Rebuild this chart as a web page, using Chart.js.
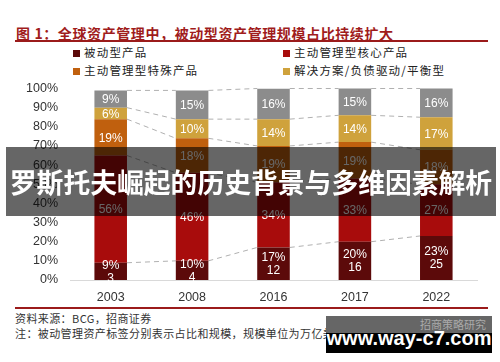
<!DOCTYPE html>
<html>
<head>
<meta charset="utf-8">
<script src="https://cdn.jsdelivr.net/npm/chart.js@4.4.1/dist/chart.umd.min.js"></script>
<style>
  body { margin: 0; width: 500px; height: 362px; position: relative; overflow: hidden; background: #fff;
         font-family: "Noto Sans CJK SC", sans-serif; }
  .title { position: absolute; left: 16px; top: 23px; font-size: 14px; font-weight: bold; color: #a01c1c; letter-spacing: 0.6px; }
  .rule { position: absolute; left: 15px; width: 473px; height: 2px; background: #9b1b1b; }
  .leg { position: absolute; font-size: 11.5px; color: #222; letter-spacing: 1.2px; line-height: 14px; }
  .leg i { display: inline-block; width: 7px; height: 7px; margin-right: 4px; vertical-align: 0px; }
  .foot { position: absolute; left: 15px; font-size: 11px; color: #333; letter-spacing: 0.4px; line-height: 14px; }
  #wrap { position: absolute; left: 0; top: 69px; width: 500px; height: 236px; }
  .band { position: absolute; left: 6px; top: 147px; width: 490px; height: 69px; background: rgba(0,0,0,0.6);
          color: #fff; font-weight: bold; font-size: 26.8px; line-height: 69px; text-align: center; white-space: nowrap; }
  .wm { position: absolute; left: 326px; top: 316px; width: 166px; height: 37px;
        background: linear-gradient(#666 0, #666 17px, #000 17px, #000 100%); }
  .wm .sub { position: absolute; right: 6px; top: 1px; font-size: 11px; color: #aaa; line-height: 14px; white-space: nowrap; }
  .wm .url { position: absolute; left: 0; width: 166px; top: 9px; text-align: center; color: #fff; white-space: nowrap;
             font-family: "Liberation Sans", Arial, sans-serif; font-weight: bold; font-size: 20px; line-height: 26px; }
</style>
</head>
<body>
<div class="title">图 1：全球资产管理中，被动型资产管理规模占比持续扩大</div>
<div class="rule" style="top:40px"></div>
<div class="leg" style="left:73px;top:45px"><i style="background:#5c0a0a"></i>被动型产品</div>
<div class="leg" style="left:283px;top:45px"><i style="background:#a80c0c"></i>主动管理型核心产品</div>
<div class="leg" style="left:73px;top:63px"><i style="background:#c0600e"></i>主动管理型特殊产品</div>
<div class="leg" style="left:283px;top:63px"><i style="background:#cfa23c"></i>解决方案/负债驱动/平衡型</div>

<div id="wrap"><canvas id="chart"></canvas></div>

<div class="rule" style="top:307px"></div>
<div class="foot" style="top:311px">资料来源：BCG，招商证券</div>
<div class="foot" style="top:326px">注：被动管理资产标签分别表示占比和规模，规模单位为万亿美元</div>

<div class="band">罗斯托夫崛起的历史背景与多维因素解析</div>
<div class="wm"><span class="sub">招商策略研究</span><div class="url">www.way-c7.com</div></div>

<script>
const years = ['2003', '2008', '2016', '2017', '2022'];
const passive = [9, 10, 17, 20, 23];
const passiveSize = [3, 4, 12, 16, 25];
const activeCore = [56, 46, 34, 33, 27];
const activeSpecial = [19, 18, 19, 19, 18];
const solutions = [6, 10, 14, 14, 17];
const others = [9, 15, 16, 15, 16];
const yTicks = [0, 10, 20, 30, 40, 50, 60, 70, 80, 90, 100];

const colors = ['#5c0a0a', '#a80c0c', '#c0600e', '#cfa23c', '#8c8c8c'];
const names = ['被动型产品', '主动管理型核心产品', '主动管理型特殊产品', '解决方案/负债驱动/平衡型', '其他'];
const series = [passive, activeCore, activeSpecial, solutions, others];

// dashed connector lines between segment tops of neighbouring bars
const seriesLines = {
  id: 'seriesLines',
  beforeDatasetsDraw(chart) {
    const ctx = chart.ctx;
    const y = chart.scales.y;
    ctx.save();
    ctx.strokeStyle = '#b0b0b0';
    ctx.lineWidth = 1;
    ctx.setLineDash([5, 4]);
    const cum = years.map(() => 0);
    series.forEach((s, d) => {
      s.forEach((v, i) => { cum[i] += v; });
      const meta = chart.getDatasetMeta(d);
      for (let i = 0; i < years.length - 1; i++) {
        const a = meta.data[i], b = meta.data[i + 1];
        const ya = y.getPixelForValue(Math.min(cum[i], 100));
        const yb = y.getPixelForValue(Math.min(cum[i + 1], 100));
        ctx.beginPath();
        ctx.moveTo(a.x + a.width / 2, ya);
        ctx.lineTo(b.x - b.width / 2, yb);
        ctx.stroke();
      }
    });
    ctx.restore();
  }
};

const barLabels = {
  id: 'barLabels',
  afterDatasetsDraw(chart) {
    const ctx = chart.ctx;
    ctx.save();
    ctx.fillStyle = '#fff';
    ctx.font = '12px "Liberation Sans", Arial, sans-serif';
    ctx.textAlign = 'center';
    ctx.textBaseline = 'middle';
    series.forEach((s, d) => {
      const meta = chart.getDatasetMeta(d);
      meta.data.forEach((bar, i) => {
        const top = Math.max(bar.y, chart.chartArea.top);
        const mid = (top + bar.base) / 2;
        if (d === 0) {
          ctx.fillText(s[i] + '%', bar.x, mid - 6);
          ctx.fillText(String(passiveSize[i]), bar.x, mid + 7);
        } else {
          ctx.fillText(s[i] + '%', bar.x, mid + 1);
        }
      });
    });
    ctx.restore();
  }
};

new Chart(document.getElementById('chart'), {
  type: 'bar',
  data: {
    labels: years,
    datasets: series.map((s, d) => ({
      label: names[d],
      data: s,
      backgroundColor: colors[d],
      borderWidth: 0,
      barPercentage: 0.4,
      categoryPercentage: 1
    }))
  },
  options: {
    responsive: true,
    maintainAspectRatio: false,
    animation: false,
    layout: { padding: { top: 7, right: 23, left: 0, bottom: 0 } },
    plugins: { legend: { display: false }, tooltip: { enabled: false } },
    scales: {
      x: {
        stacked: true,
        grid: { display: false },
        border: { display: true, color: '#d9d9d9', width: 1 },
        ticks: { color: '#333', padding: 2, font: { family: '"Liberation Sans", Arial', size: 12.5 } },
        afterFit(scale) { scale.height = 25; }
      },
      y: {
        stacked: true,
        min: 0,
        max: 100,
        grid: { display: false, drawTicks: false },
        border: { display: false },
        afterBuildTicks(scale) { scale.ticks = yTicks.map(v => ({ value: v })); },
        ticks: {
          color: '#333',
          padding: 12,
          font: { family: '"Liberation Sans", Arial', size: 12.5 },
          callback: v => v + '%'
        },
        afterFit(scale) { scale.width = 70; }
      }
    }
  },
  plugins: [seriesLines, barLabels]
});
</script>
</body>
</html>
